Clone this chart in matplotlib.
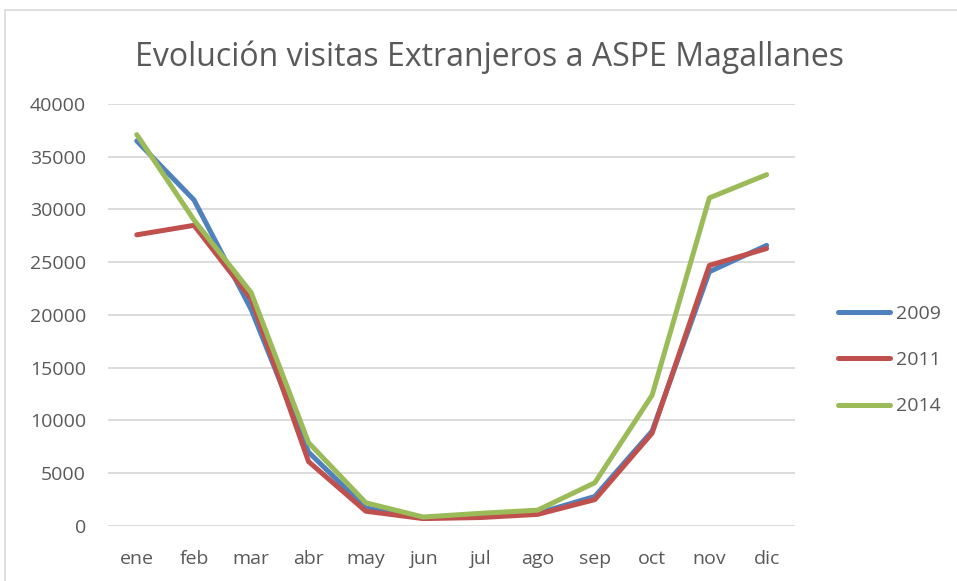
import matplotlib.pyplot as plt
from matplotlib.patches import Rectangle

meses = ["ene", "feb", "mar", "abr", "may", "jun", "jul", "ago", "sep", "oct", "nov", "dic"]
v2009 = [36500, 30900, 20500, 7000, 1700, 800, 900, 1200, 2800, 9000, 24100, 26600]
v2011 = [27600, 28500, 21500, 6100, 1400, 700, 800, 1100, 2500, 8800, 24700, 26300]
v2014 = [37100, 29000, 22100, 7900, 2200, 850, 1200, 1500, 4100, 12400, 31100, 33300]
yticks = [0, 5000, 10000, 15000, 20000, 25000, 30000, 35000, 40000]

fig = plt.figure(figsize=(9.57, 5.81), dpi=100)
ax = fig.add_axes([0.113, 0.0947, 0.718, 0.7263])

x = range(len(meses))
ax.plot(x, v2009, color="#4F81BD", lw=3.6, label="2009", solid_capstyle="round")
ax.plot(x, v2011, color="#C0504D", lw=3.6, label="2011", solid_capstyle="round")
ax.plot(x, v2014, color="#9BBB59", lw=3.6, label="2014", solid_capstyle="round")

ax.set_xlim(-0.5, 11.5)
ax.set_ylim(0, 40000)
ax.set_yticks(yticks)
ax.set_xticks(list(x))
ax.set_xticklabels(meses)
ax.grid(axis="y", color="#D9D9D9", lw=1.3)
ax.set_axisbelow(True)
for s in ax.spines.values():
    s.set_visible(False)
ax.tick_params(length=0, labelsize=14, labelcolor="#595959")
ax.tick_params(axis="y", pad=16)
ax.tick_params(axis="x", pad=17)
for lab in ax.get_xticklabels() + ax.get_yticklabels():
    lab.set_family("Open Sans")

fig.text(0.512, 0.902, "Evolución visitas Extranjeros a ASPE Magallanes",
         ha="center", va="center", fontsize=23, color="#595959", family="Open Sans")

leg = fig.legend(loc="center left", bbox_to_anchor=(0.857, 0.38), frameon=False,
                 handlelength=2.7, labelspacing=1.45, handletextpad=0.3,
                 prop={"family": "Open Sans", "size": 14})
for t in leg.get_texts():
    t.set_color("#595959")

# marco del grafico
fig.patches.append(Rectangle((0.005, -0.1), 1.2, 1.083, transform=fig.transFigure,
                             fill=False, edgecolor="#D9D9D9", lw=1.2))

fig.savefig("out.png", dpi=100)
